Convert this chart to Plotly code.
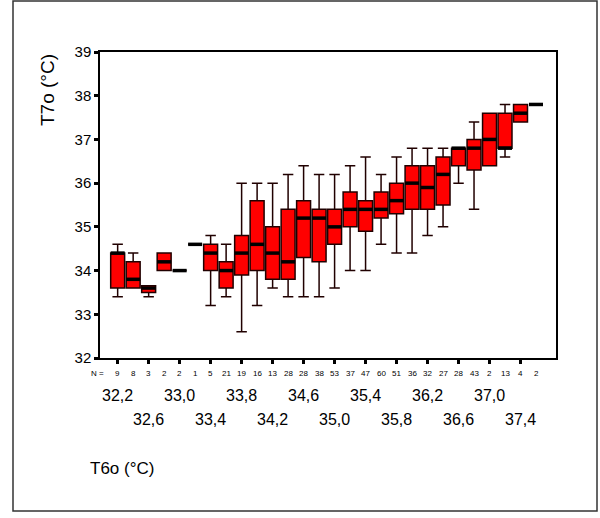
import plotly.graph_objects as go

# ---------------- data ----------------
categories = [32.2, 32.4, 32.6, 32.8, 33.0, 33.2, 33.4, 33.6, 33.8, 34.0,
              34.2, 34.4, 34.6, 34.8, 35.0, 35.2, 35.4, 35.6, 35.8, 36.0,
              36.2, 36.4, 36.6, 36.8, 37.0, 37.2, 37.4, 37.6]
counts = [9, 8, 3, 2, 2, 1, 5, 21, 19, 16, 13, 28, 28, 38, 53, 37, 47, 60,
          51, 36, 32, 27, 28, 43, 2, 13, 4, 2]
lower = [33.4, 33.6, 33.4, 34.0, 34.0, 34.6, 33.2, 33.4, 32.6, 33.2,
         33.6, 33.4, 33.4, 33.4, 33.6, 34.0, 34.0, 34.6, 34.4, 34.4,
         34.8, 35.0, 36.0, 35.4, 36.4, 36.6, 37.4, 37.8]
q1 = [33.6, 33.6, 33.5, 34.0, 34.0, 34.6, 34.0, 33.6, 33.9, 34.0,
      33.8, 33.8, 34.3, 34.2, 34.6, 35.0, 34.9, 35.2, 35.3, 35.4,
      35.4, 35.5, 36.4, 36.3, 36.4, 36.8, 37.4, 37.8]
median = [34.4, 33.8, 33.6, 34.2, 34.0, 34.6, 34.4, 34.0, 34.4, 34.6,
          34.4, 34.2, 35.2, 35.2, 35.0, 35.4, 35.4, 35.4, 35.6, 36.0,
          35.9, 36.2, 36.8, 36.8, 37.0, 36.8, 37.6, 37.8]
q3 = [34.4, 34.2, 33.65, 34.4, 34.0, 34.6, 34.6, 34.2, 34.8, 35.6,
      35.0, 35.4, 35.6, 35.4, 35.4, 35.8, 35.6, 35.8, 36.0, 36.4,
      36.4, 36.6, 36.8, 37.0, 37.6, 37.6, 37.8, 37.8]
upper = [34.6, 34.4, 33.65, 34.4, 34.0, 34.6, 34.8, 34.6, 36.0, 36.0,
         36.0, 36.2, 36.4, 36.2, 36.2, 36.4, 36.6, 36.2, 36.6, 36.8,
         36.8, 36.8, 36.8, 37.4, 37.6, 37.8, 37.8, 37.8]
y_ticks = [32, 33, 34, 35, 36, 37, 38, 39]

FONT = "Arial, Liberation Sans, sans-serif"

# ---------------- layout geometry ----------------
W, H = 600, 518
ML, MR, MT, MB = 100, 44, 52, 160
PW = W - ML - MR
PH = H - MT - MB

fig = go.Figure()

fig.add_trace(go.Box(
    x=categories, q1=q1, median=median, q3=q3,
    lowerfence=lower, upperfence=upper,
    boxpoints=False, width=0.18, whiskerwidth=0.75,
    fillcolor="#ff0000", line=dict(color="#200000", width=1.5),
    showlegend=False, hoverinfo="skip",
))
# thick median bars (line-ew marker length = 1.4 * size)
fig.add_trace(go.Scatter(
    x=categories, y=median, mode="markers",
    marker=dict(symbol="line-ew", size=10,
                line=dict(color="black", width=3.5)),
    showlegend=False, hoverinfo="skip",
))

labelled = categories[::2]

def fmt(v):
    return f"{v:.1f}".replace(".", ",")

annotations = []
annotations.append(dict(text="N =", xref="paper", x=(106 - ML) / PW, xanchor="right",
                        yref="paper", y=0, yanchor="middle", yshift=-15,
                        showarrow=False, font=dict(family=FONT, size=8, color="black")))
for c, n in zip(categories, counts):
    annotations.append(dict(text=str(n), xref="x", x=c, xanchor="center",
                            yref="paper", y=0, yanchor="middle", yshift=-15,
                            showarrow=False, font=dict(family=FONT, size=8, color="black")))
for i, c in enumerate(labelled):
    annotations.append(dict(text=fmt(c), xref="x", x=c, xanchor="center",
                            yref="paper", y=0, yanchor="middle",
                            yshift=-37 if i % 2 == 0 else -61,
                            showarrow=False, font=dict(family=FONT, size=16, color="black")))
annotations.append(dict(text="T6o (°C)", xref="paper", x=(88 - ML) / PW, xanchor="left",
                        yref="paper", y=0, yanchor="middle", yshift=-110,
                        showarrow=False, font=dict(family=FONT, size=17, color="black")))
annotations.append(dict(text="T7o (°C)", xref="paper", x=(47 - ML) / PW, xanchor="center",
                        yref="paper", y=(MT + PH - 90) / PH, yanchor="middle", textangle=-90,
                        showarrow=False, font=dict(family=FONT, size=19, color="black")))

fig.update_layout(
    width=W, height=H,
    margin=dict(l=ML, r=MR, t=MT, b=MB, pad=0),
    paper_bgcolor="white", plot_bgcolor="white",
    font=dict(family=FONT, color="black"),
    annotations=annotations,
    shapes=[dict(type="rect", xref="paper", yref="paper",
                 x0=(13 - ML) / PW, x1=(597 - ML) / PW,
                 y0=(MT + PH - 511) / PH, y1=(MT + PH - 1) / PH,
                 line=dict(color="#333333", width=1.5), fillcolor="rgba(0,0,0,0)", layer="below")],
    xaxis=dict(range=[31.972, 37.858], tickvals=labelled, showticklabels=False,
               ticks="outside", ticklen=4, tickwidth=3, tickcolor="black",
               showline=True, linecolor="black", linewidth=1.5, mirror=True,
               showgrid=False, zeroline=False, fixedrange=True),
    yaxis=dict(range=[32, 39], tickvals=y_ticks, ticktext=[str(v) for v in y_ticks],
               ticks="outside", ticklen=4, tickwidth=3, tickcolor="black",
               tickfont=dict(family=FONT, size=15, color="black"),
               showline=True, linecolor="black", linewidth=1.5, mirror=True,
               showgrid=False, zeroline=False, fixedrange=True),
)

fig.write_html("out.html")
